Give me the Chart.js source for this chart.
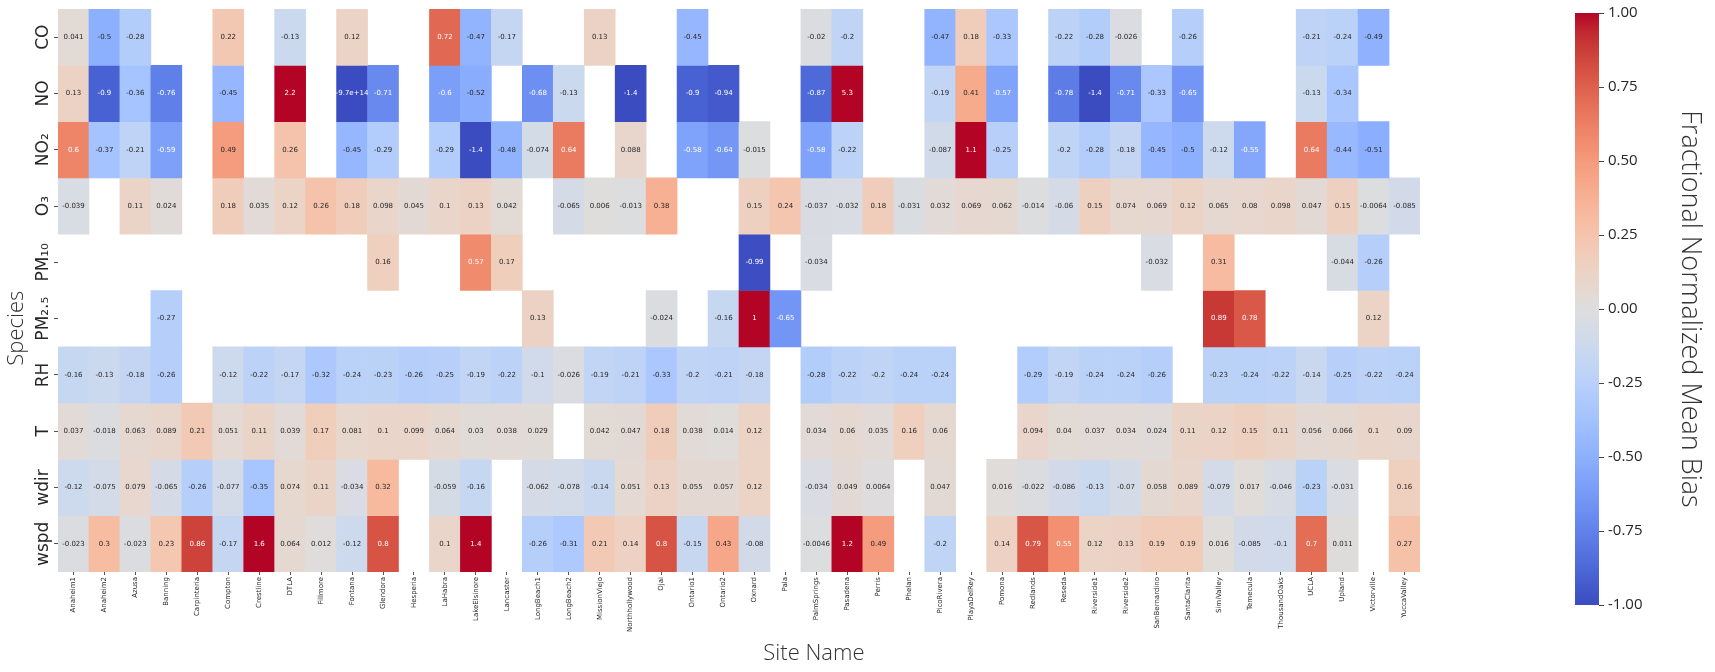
<!DOCTYPE html>
<html><head><meta charset="utf-8">
<script src="https://cdn.jsdelivr.net/npm/chart.js@4.4.0/dist/chart.umd.min.js"></script>
<style>
html,body{margin:0;padding:0;background:#fff;}
#wrap{position:relative;width:1715px;height:672px;overflow:hidden;}
#heat{position:absolute;left:0;top:0;}
#cbar{position:absolute;left:1540px;top:0;}
</style></head><body>
<div id="wrap">
<canvas id="heat" width="1540" height="672" style="width:1540px;height:672px"></canvas>
<canvas id="cbar" width="175" height="672" style="width:175px;height:672px"></canvas>
</div>
<script>
const sites = ['Anaheim1','Anaheim2','Azusa','Banning','Carpinteria','Compton','Crestline','DTLA','Fillmore','Fontana','Glendora','Hesperia','LaHabra','LakeElsinore','Lancaster','LongBeach1','LongBeach2','MissionViejo','Northhollywood','Ojai','Ontario1','Ontario2','Oxnard','Pala','PalmSprings','Pasadena','Perris','Phelan','PicoRivera','PlayaDelRey','Pomona','Redlands','Reseda','Riverside1','Riverside2','SanBernardino','SantaClarita','SimiValley','Temecula','ThousandOaks','UCLA','Upland','Victorville','YuccaValley'];
const speciesLabels = ['CO','NO','NO\u2082','O\u2083','PM\u2081\u2080','PM\u2082.\u2085','RH','T','wdir','wspd'];
const xTitle = 'Site Name';
const yTitle = 'Species';
const cbarTitle = 'Fractional Normalized Mean Bias';

const CO   = [0.041,-0.5,-0.28,null,null,0.22,null,-0.13,null,0.12, null,null,0.72,-0.47,-0.17,null,null,0.13,null,null, -0.45,null,null,null,-0.02,-0.2,null,null,-0.47,0.18, -0.33,null,-0.22,-0.28,-0.026,null,-0.26,null,null,null, -0.21,-0.24,-0.49,null];
const NO   = [0.13,-0.9,-0.36,-0.76,null,-0.45,null,2.2,null,-9.7e14, -0.71,null,-0.6,-0.52,null,-0.68,-0.13,null,-1.4,null, -0.9,-0.94,null,null,-0.87,5.3,null,null,-0.19,0.41, -0.57,null,-0.78,-1.4,-0.71,-0.33,-0.65,null,null,null, -0.13,-0.34,null,null];
const NO2  = [0.6,-0.37,-0.21,-0.59,null,0.49,null,0.26,null,-0.45, -0.29,null,-0.29,-1.4,-0.48,-0.074,0.64,null,0.088,null, -0.58,-0.64,-0.015,null,-0.58,-0.22,null,null,-0.087,1.1, -0.25,null,-0.2,-0.28,-0.18,-0.45,-0.5,-0.12,-0.55,null, 0.64,-0.44,-0.51,null];
const O3   = [-0.039,null,0.11,0.024,null,0.18,0.035,0.12,0.26,0.18, 0.098,0.045,0.1,0.13,0.042,null,-0.065,0.006,-0.013,0.38, null,null,0.15,0.24,-0.037,-0.032,0.18,-0.031,0.032,0.069, 0.062,-0.014,-0.06,0.15,0.074,0.069,0.12,0.065,0.08,0.098, 0.047,0.15,-0.0064,-0.085];
const PM10 = [null,null,null,null,null,null,null,null,null,null, 0.16,null,null,0.57,0.17,null,null,null,null,null, null,null,-0.99,null,-0.034,null,null,null,null,null, null,null,null,null,null,-0.032,null,0.31,null,null, null,-0.044,-0.26,null];
const PM25 = [null,null,null,-0.27,null,null,null,null,null,null, null,null,null,null,null,0.13,null,null,null,-0.024, null,-0.16,1,-0.65,null,null,null,null,null,null, null,null,null,null,null,null,null,0.89,0.78,null, null,null,0.12,null];
const RH   = [-0.16,-0.13,-0.18,-0.26,null,-0.12,-0.22,-0.17,-0.32,-0.24, -0.23,-0.26,-0.25,-0.19,-0.22,-0.1,-0.026,-0.19,-0.21,-0.33, -0.2,-0.21,-0.18,null,-0.28,-0.22,-0.2,-0.24,-0.24,null, null,-0.29,-0.19,-0.24,-0.24,-0.26,null,-0.23,-0.24,-0.22, -0.14,-0.25,-0.22,-0.24];
const T    = [0.037,-0.018,0.063,0.089,0.21,0.051,0.11,0.039,0.17,0.081, 0.1,0.099,0.064,0.03,0.038,0.029,null,0.042,0.047,0.18, 0.038,0.014,0.12,null,0.034,0.06,0.035,0.16,0.06,null, null,0.094,0.04,0.037,0.034,0.024,0.11,0.12,0.15,0.11, 0.056,0.066,0.1,0.09];
const wdir = [-0.12,-0.075,0.079,-0.065,-0.26,-0.077,-0.35,0.074,0.11,-0.034, 0.32,null,-0.059,-0.16,null,-0.062,-0.078,-0.14,0.051,0.13, 0.055,0.057,0.12,null,-0.034,0.049,0.0064,null,0.047,null, 0.016,-0.022,-0.086,-0.13,-0.07,0.058,0.089,-0.079,0.017,-0.046, -0.23,-0.031,null,0.16];
const wspd = [-0.023,0.3,-0.023,0.23,0.86,-0.17,1.6,0.064,0.012,-0.12, 0.8,null,0.1,1.4,null,-0.26,-0.31,0.21,0.14,0.8, -0.15,0.43,-0.08,null,-0.0046,1.2,0.49,null,-0.2,null, 0.14,0.79,0.55,0.12,0.13,0.19,0.19,0.016,-0.085,-0.1, 0.7,0.011,null,0.27];
const colorbarTicks = [-1,-0.75,-0.5,-0.25,0,0.25,0.5,0.75,1];

const rows = [CO,NO,NO2,O3,PM10,PM25,RH,T,wdir,wspd];

// coolwarm colormap (Moreland)
const CW = [[59,76,192],[68,90,204],[77,104,215],[87,117,225],[98,130,234],[108,142,241],[119,154,247],[130,165,251],[141,176,254],[152,185,255],[163,194,255],[174,201,253],[184,208,249],[194,213,244],[204,217,238],[213,219,230],[221,221,221],[229,216,209],[236,211,197],[241,204,185],[245,196,173],[247,187,160],[247,177,148],[247,166,135],[244,154,123],[241,141,111],[236,127,99],[229,112,88],[222,96,77],[213,80,66],[203,62,56],[192,40,47],[180,4,38]];
function cmapRGB(v){
  const t = (Math.max(-1, Math.min(1, v)) + 1) / 2;
  const p = t * (CW.length - 1);
  const i = Math.min(CW.length - 2, Math.floor(p));
  const f = p - i;
  return CW[i].map((c, k) => c + (CW[i+1][k] - c) * f);
}
function cmap(v){ const c = cmapRGB(v); return `rgb(${c[0].toFixed(0)},${c[1].toFixed(0)},${c[2].toFixed(0)})`; }
function textColor(v){
  const lin = cmapRGB(v).map(c => { c /= 255; return c <= 0.03928 ? c / 12.92 : Math.pow((c + 0.055) / 1.055, 2.4); });
  const lum = 0.2126*lin[0] + 0.7152*lin[1] + 0.0722*lin[2];
  return lum > 0.408 ? '#262626' : '#ffffff';
}
function fmt(v){
  let s = v.toPrecision(2);
  if (s.indexOf('e') >= 0) {
    let [m, e] = s.split('e');
    if (m.indexOf('.') >= 0) m = m.replace(/0+$/, '').replace(/\.$/, '');
    const sign = e[0] === '-' ? '-' : '+';
    let d = e.replace(/[+-]/, ''); if (d.length < 2) d = '0' + d;
    return m + 'e' + sign + d;
  }
  if (s.indexOf('.') >= 0) s = s.replace(/0+$/, '').replace(/\.$/, '');
  return s;
}

const annotPlugin = {
  id: 'annot',
  afterDatasetsDraw(chart) {
    const ctx = chart.ctx;
    ctx.save();
    ctx.font = '7px "DejaVu Sans"';
    ctx.textAlign = 'center';
    ctx.textBaseline = 'middle';
    chart.data.datasets.forEach((ds, di) => {
      const meta = chart.getDatasetMeta(di);
      meta.data.forEach((el, i) => {
        const v = ds.values[i];
        if (v === null || v === undefined) return;
        const p = el.getProps(['x', 'y', 'base'], true);
        ctx.fillStyle = textColor(v);
        ctx.fillText(fmt(v), p.x, (p.y + p.base) / 2);
      });
    });
    ctx.restore();
  }
};

// axis titles, placed as in the reference figure
const axisTitlePlugin = {
  id: 'axisTitles',
  afterDraw(chart) {
    const ctx = chart.ctx;
    const ca = chart.chartArea;
    ctx.save();
    ctx.font = '300 22px "Open Sans", "DejaVu Sans", sans-serif';
    ctx.fillStyle = '#333';
    ctx.textAlign = 'center';
    ctx.textBaseline = 'middle';
    ctx.fillText(xTitle, ca.left + (ca.right - ca.left) * 0.555, chart.height - 18);
    ctx.translate(17, ca.top + (ca.bottom - ca.top) * 0.567);
    ctx.rotate(-Math.PI / 2);
    ctx.fillText(yTitle, 0, 0);
    ctx.restore();
  }
};

new Chart(document.getElementById('heat'), {
  type: 'bar',
  data: {
    labels: sites,
    datasets: rows.map((vals, r) => ({
      label: speciesLabels[r],
      values: vals,
      data: vals.map(v => v === null ? null : [r, r + 1]),
      backgroundColor: vals.map(v => v === null ? 'rgba(0,0,0,0)' : cmap(v)),
      borderWidth: 0,
      grouped: false,
      barPercentage: 1,
      categoryPercentage: 1
    }))
  },
  options: {
    responsive: false,
    animation: false,
    devicePixelRatio: 1,
    layout: {padding: {top: 9, right: 120, left: 0, bottom: 0}},
    plugins: {legend: {display: false}, tooltip: {enabled: false}},
    scales: {
      x: {
        type: 'category',
        offset: true,
        afterFit: s => { s.height = 100; },
        grid: {drawOnChartArea: false, offset: false, tickLength: 3, color: '#555'},
        border: {display: false},
        ticks: {font: {family: '"DejaVu Sans"', size: 7}, color: '#262626', minRotation: 90, maxRotation: 90, autoSkip: false, padding: 2},
        title: {display: false}
      },
      y: {
        type: 'linear',
        min: 0, max: 10,
        reverse: true,
        afterFit: s => { s.width = 58; },
        afterBuildTicks: s => { s.ticks = speciesLabels.map((_, i) => ({value: i + 0.5})); },
        grid: {drawOnChartArea: false, tickLength: 4, color: '#555'},
        border: {display: false},
        ticks: {
          callback: v => speciesLabels[Math.floor(v)],
          font: {family: '"DejaVu Sans"', size: 17},
          color: '#262626',
          minRotation: 90, maxRotation: 90,
          autoSkip: false,
          crossAlign: 'center',
          padding: -12
        },
        title: {display: false}
      }
    }
  },
  plugins: [annotPlugin, axisTitlePlugin]
});

new Chart(document.getElementById('cbar'), {
  type: 'bar',
  data: {
    labels: [''],
    datasets: [{
      data: [[-1, 1]],
      borderWidth: 0,
      barPercentage: 1,
      categoryPercentage: 1,
      backgroundColor: (c) => {
        const chart = c.chart;
        if (!chart.chartArea) return 'rgba(0,0,0,0)';
        const ys = chart.scales.y;
        const g = chart.ctx.createLinearGradient(0, ys.getPixelForValue(-1), 0, ys.getPixelForValue(1));
        CW.forEach((col, k) => g.addColorStop(k / (CW.length - 1), `rgb(${col[0]},${col[1]},${col[2]})`));
        return g;
      }
    }]
  },
  options: {
    responsive: false,
    animation: false,
    devicePixelRatio: 1,
    layout: {padding: {top: 9, right: 9, left: 35, bottom: 67}},
    plugins: {legend: {display: false}, tooltip: {enabled: false}},
    scales: {
      x: {display: false, offset: true},
      y: {
        position: 'right',
        min: -1, max: 1,
        afterBuildTicks: s => { s.ticks = colorbarTicks.map(v => ({value: v})); },
        afterFit: s => { s.width = 107; },
        grid: {drawOnChartArea: false, tickLength: 5, color: '#444'},
        border: {display: false},
        ticks: {callback: v => v.toFixed(2), font: {family: '"Open Sans", "DejaVu Sans", sans-serif', size: 15}, color: '#262626', padding: 4},
        title: {display: true, text: cbarTitle, font: {family: '"Open Sans", "DejaVu Sans", sans-serif', size: 27, weight: 300}, color: '#333', padding: {top: 0, bottom: 0}}
      }
    }
  }
});
</script>
</body></html>
